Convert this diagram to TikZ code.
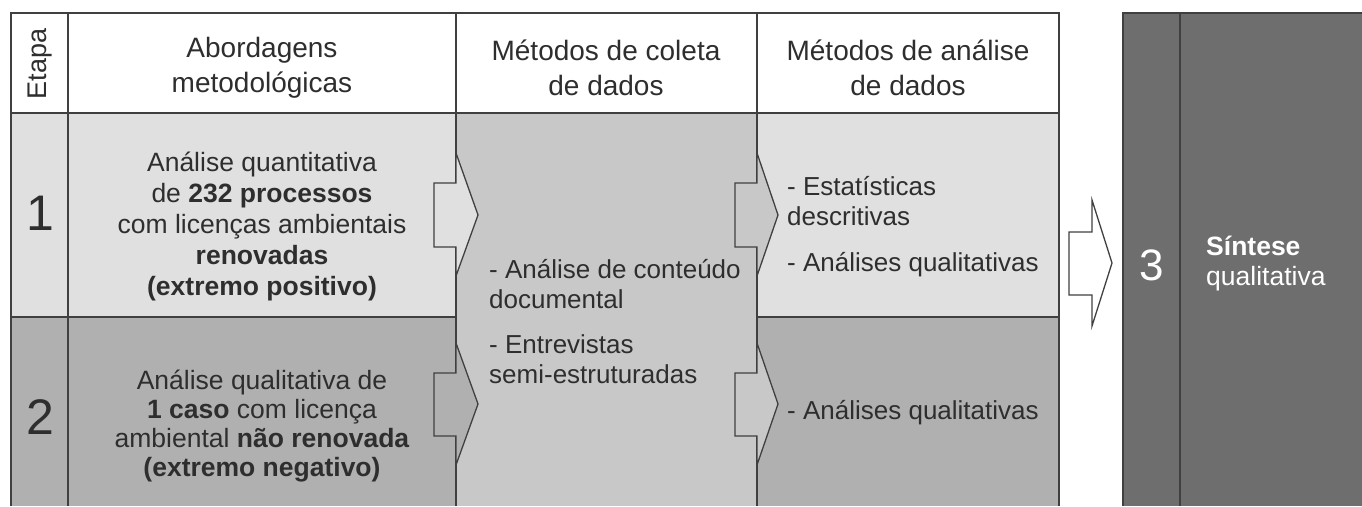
\documentclass[tikz,border=0pt]{standalone}
\usepackage{fontspec}
\setmainfont{Liberation Sans}
\definecolor{rowA}{HTML}{E0E0E0}
\definecolor{rowB}{HTML}{B0B0B0}
\definecolor{colC}{HTML}{C8C8C8}
\definecolor{darkP}{HTML}{6E6E6E}
\definecolor{linec}{HTML}{404040}
\definecolor{txt}{HTML}{2E2E2E}
\begin{document}
\begin{tikzpicture}[x=1pt,y=-1pt,line join=miter,
  grid/.style={draw=linec,line width=1.3pt},
  blockarrow/.style={draw=linec,line width=1.3pt},
  head/.style={text=txt,align=center,font=\fontsize{28}{35}\selectfont,inner sep=0pt},
  body/.style={text=txt,align=center,font=\fontsize{26.5}{31}\selectfont,inner sep=0pt},
  bodyl/.style={text=txt,align=left,font=\fontsize{26}{30}\selectfont,inner sep=0pt,anchor=west},
  num/.style={text=txt,font=\fontsize{50}{50}\selectfont,inner sep=0pt}]
\useasboundingbox (0,0) rectangle (1362,506);
% cells
\fill[white] (11,13) rectangle (1059,113);
\fill[rowA] (11,113) rectangle (456,317);
\fill[rowA] (757,113) rectangle (1059,317);
\fill[rowB] (11,317) rectangle (456,506);
\fill[rowB] (757,317) rectangle (1059,506);
\fill[colC] (456,113) rectangle (757,506);
\fill[darkP] (1123,13) rectangle (1362,506);
% grid lines
\draw[grid] (11,506) -- (11,13) -- (1059,13) -- (1059,506);
\draw[grid] (68,13) -- (68,506);
\draw[grid] (456,13) -- (456,506);
\draw[grid] (757,13) -- (757,506);
\draw[grid] (11,113) -- (1059,113);
\draw[grid] (11,317) -- (456,317);
\draw[grid] (757,317) -- (1059,317);
\draw[grid] (1123,506) -- (1123,13) -- (1362,13);
\draw[grid] (1180,13) -- (1180,506);
% block arrows
\path[blockarrow,fill=rowA] (434,183) -- (456,183) -- (456,153) -- (478,215) -- (456,276) -- (456,247) -- (434,247) -- cycle;
\path[blockarrow,fill=rowB] (434,373) -- (456,373) -- (456,343) -- (478,404) -- (456,465) -- (456,436) -- (434,436) -- cycle;
\path[blockarrow,fill=colC] (735,183) -- (757,183) -- (757,153) -- (778,215) -- (757,276) -- (757,247) -- (735,247) -- cycle;
\path[blockarrow,fill=colC] (735,373) -- (757,373) -- (757,343) -- (778,404) -- (757,465) -- (757,436) -- (735,436) -- cycle;
\path[blockarrow,fill=white] (1069,232) -- (1092,232) -- (1092,200) -- (1112,263) -- (1092,326) -- (1092,295) -- (1069,295) -- cycle;
% header texts
\node[head,rotate=90,font=\fontsize{27}{27}\selectfont] (etapa) at (40,64) {Etapa};
\node[head] (h1) at (262,68) {Abordagens\\metodológicas};
\node[head] (h2) at (606,68) {Métodos de coleta\\de dados};
\node[head] (h3) at (908,68) {Métodos de análise\\de dados};
% numbers
\node[num] (n1) at (40,213) {1};
\node[num] (n2) at (40,417) {2};
\node[num,text=white,font=\fontsize{44}{44}\selectfont] (n3) at (1152,265) {3};
% row texts
\node[body] (r1) at (262,226) {Análise quantitativa\\de \textbf{232 processos}\\com licenças ambientais\\\textbf{renovadas}\\\textbf{(extremo positivo)}};
\node[body,font=\fontsize{26.5}{29}\selectfont] (r2) at (262,426) {Análise qualitativa de\\\textbf{1 caso} com licença\\ambiental \textbf{não renovada}\\\textbf{(extremo negativo)}};
\node[bodyl] (c3) at (489,322) {- Análise de conteúdo\\documental\\[15pt]- Entrevistas\\semi-estruturadas};
\node[bodyl] (c4a) at (787,227) {- Estatísticas\\descritivas\\[16pt]- Análises qualitativas};
\node[bodyl] (c4b) at (787,413) {- Análises qualitativas};
\node[bodyl,text=white,font=\fontsize{26.5}{30}\selectfont] (s) at (1206,264) {\textbf{Síntese}\\qualitativa};
\end{tikzpicture}
\end{document}
